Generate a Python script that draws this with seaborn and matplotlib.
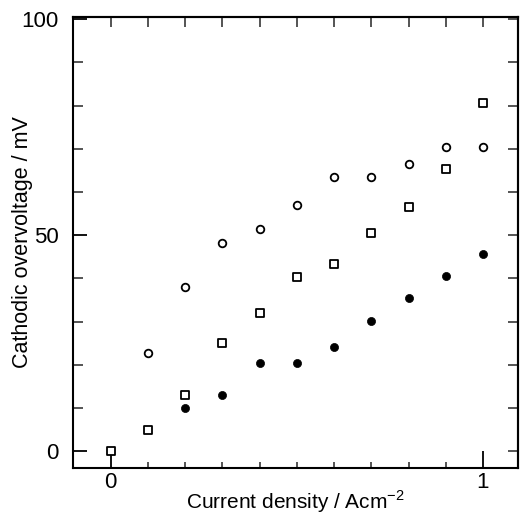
import numpy as np
import pandas as pd
import matplotlib.pyplot as plt
import seaborn as sns
from matplotlib.ticker import MultipleLocator, FixedLocator

# current density / A cm^-2
x_open = [0.1, 0.2, 0.3, 0.4, 0.5, 0.6, 0.7, 0.8, 0.9, 1.0]
y_open = [22.8, 38.0, 48.2, 51.4, 57.1, 63.4, 63.4, 66.4, 70.5, 70.5]

x_square = [0.0, 0.1, 0.2, 0.3, 0.4, 0.5, 0.6, 0.7, 0.8, 0.9, 1.0]
y_square = [0.0, 4.8, 12.9, 25.1, 32.0, 40.3, 43.3, 50.5, 56.5, 65.4, 80.6]

x_filled = [0.2, 0.3, 0.4, 0.5, 0.6, 0.7, 0.8, 0.9, 1.0]
y_filled = [9.9, 13.1, 20.3, 20.3, 24.2, 30.2, 35.5, 40.6, 45.7]

sns.set_theme(style="ticks")
plt.rcParams["font.family"] = ["Liberation Sans", "DejaVu Sans"]
plt.rcParams["mathtext.fontset"] = "custom"
plt.rcParams["mathtext.rm"] = "Liberation Sans"

fig = plt.figure(figsize=(5.2, 5.16), dpi=100)
ax = fig.add_axes([0.140, 0.093, 0.856, 0.874])

sns.scatterplot(x=x_open, y=y_open, ax=ax, marker="o", s=30,
                facecolor="white", edgecolor="black", linewidth=1.3, zorder=3)
sns.scatterplot(x=x_square, y=y_square, ax=ax, marker="s", s=34,
                facecolor="white", edgecolor="black", linewidth=1.3, zorder=3)
sns.scatterplot(x=x_filled, y=y_filled, ax=ax, marker="o", s=34,
                color="black", edgecolor="black", linewidth=0.5, zorder=3)

ax.set_xlim(-0.102, 1.094)
ax.set_ylim(-3.9, 100.5)

for side in ["left", "right", "top", "bottom"]:
    ax.spines[side].set_linewidth(1.5)
    ax.spines[side].set_color("black")

ax.xaxis.set_major_locator(FixedLocator([0, 1]))
ax.xaxis.set_minor_locator(FixedLocator(np.round(np.arange(0.1, 1.0, 0.1), 1)))
ax.yaxis.set_major_locator(FixedLocator([0, 50, 100]))
ax.yaxis.set_minor_locator(MultipleLocator(10))

ax.tick_params(axis="x", which="major", direction="in", length=12, width=1.3,
               labelsize=16, pad=3, colors="black")
ax.tick_params(axis="x", which="minor", direction="in", length=4, width=1.1)
ax.tick_params(axis="y", which="major", direction="in", length=10, width=1.3,
               labelsize=16, pad=10, colors="black")
ax.tick_params(axis="y", which="minor", direction="in", length=7.5, width=1.1)

top = ax.secondary_xaxis("top")
top.xaxis.set_major_locator(FixedLocator(np.round(np.arange(0, 1.01, 0.1), 1)))
top.tick_params(direction="in", length=7, width=1.1, labeltop=False)
top.spines["top"].set_linewidth(1.5)

right = ax.secondary_yaxis("right")
right.yaxis.set_major_locator(MultipleLocator(10))
right.tick_params(direction="in", length=7.5, width=1.1, labelright=False)
right.spines["right"].set_linewidth(1.5)

ax.set_xlabel("Current density / Acm$^{-2}$", fontsize=15, color="black")
ax.set_ylabel("Cathodic overvoltage / mV", fontsize=15.5, color="black")
ax.xaxis.set_label_coords(0.5, -0.046)
ax.yaxis.set_label_coords(-0.09, 0.5)

fig.savefig("out.png", dpi=100)
